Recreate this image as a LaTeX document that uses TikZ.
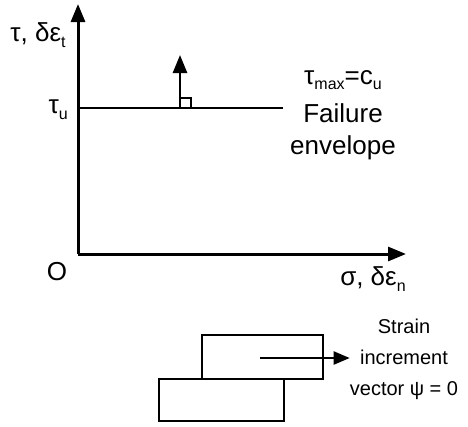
\documentclass[tikz,border=0pt]{standalone}
\usepackage{fontspec}
\setmainfont{Liberation Sans}
\usetikzlibrary{arrows.meta,positioning,calc}
\newcommand{\lowsub}[1]{\raisebox{-0.22em}{\fontsize{16}{16}\selectfont #1}}

\begin{document}
\begin{tikzpicture}[
    x=1pt, y=-1pt,
    >={Triangle[length=18pt,width=14pt]},
    axis/.style={
        ->,
        line width=3pt
    },
    envline/.style={
        line width=2.8pt
    },
    bigtext/.style={
        font=\fontsize{26}{29}\selectfont,
        inner sep=0pt
    },
    smalltext/.style={
        align=center,
        font=\fontsize{20}{31}\selectfont,
        inner sep=0pt
    },
    block/.style={
        draw,
        line width=2.4pt,
        inner sep=0pt
    }
]
\useasboundingbox (0,0) rectangle (468,426);

% axes
\coordinate (orig) at (78,254);
\coordinate (ytip) at (78,4);
\coordinate (xtip) at (406,254);
\draw[axis] (orig) -- (ytip);
\draw[axis] (orig) -- (xtip);

\node[bigtext] (ylab) at (38,35) {τ, δε\lowsub{t}};
\node[bigtext] (xlab) at (373,279) {σ, δε\lowsub{n}};
\node[bigtext] (olab) at (57,272) {O};

% failure envelope
\coordinate (envA) at (78,108);
\coordinate (envB) at (283,108);
\draw[envline] (envA) -- (envB);
\node[bigtext, anchor=east] (taulab) at (68,110) {τ\lowsub{u}};

\coordinate (vfoot) at (180,108);
\coordinate (vtip) at (180,55);
\draw[->, line width=2.6pt] (vfoot) -- (vtip);
\draw[line width=2.2pt] (vfoot) rectangle ++(11,-10);

\node[bigtext] (tmax) at (343,80) {τ\lowsub{max}=c\lowsub{u}};
\node[bigtext] (fail) at (343,113) {Failure};
\node[bigtext] (env) at (343,148) {envelope};

% sliding blocks
\node[block, minimum width=121pt, minimum height=44pt] (upper) at (262.5,357) {};
\node[block, minimum width=125pt, minimum height=42pt] (lower) at (221.5,400) {};

\node[smalltext] (strain) at (404,359) {Strain\\increment\\vector ψ = 0};
\coordinate (vstart) at (260,358);
\draw[->, line width=2.2pt, >={Triangle[length=16pt,width=13pt]}] (vstart) -- (strain.west |- vstart);

\end{tikzpicture}
\end{document}
